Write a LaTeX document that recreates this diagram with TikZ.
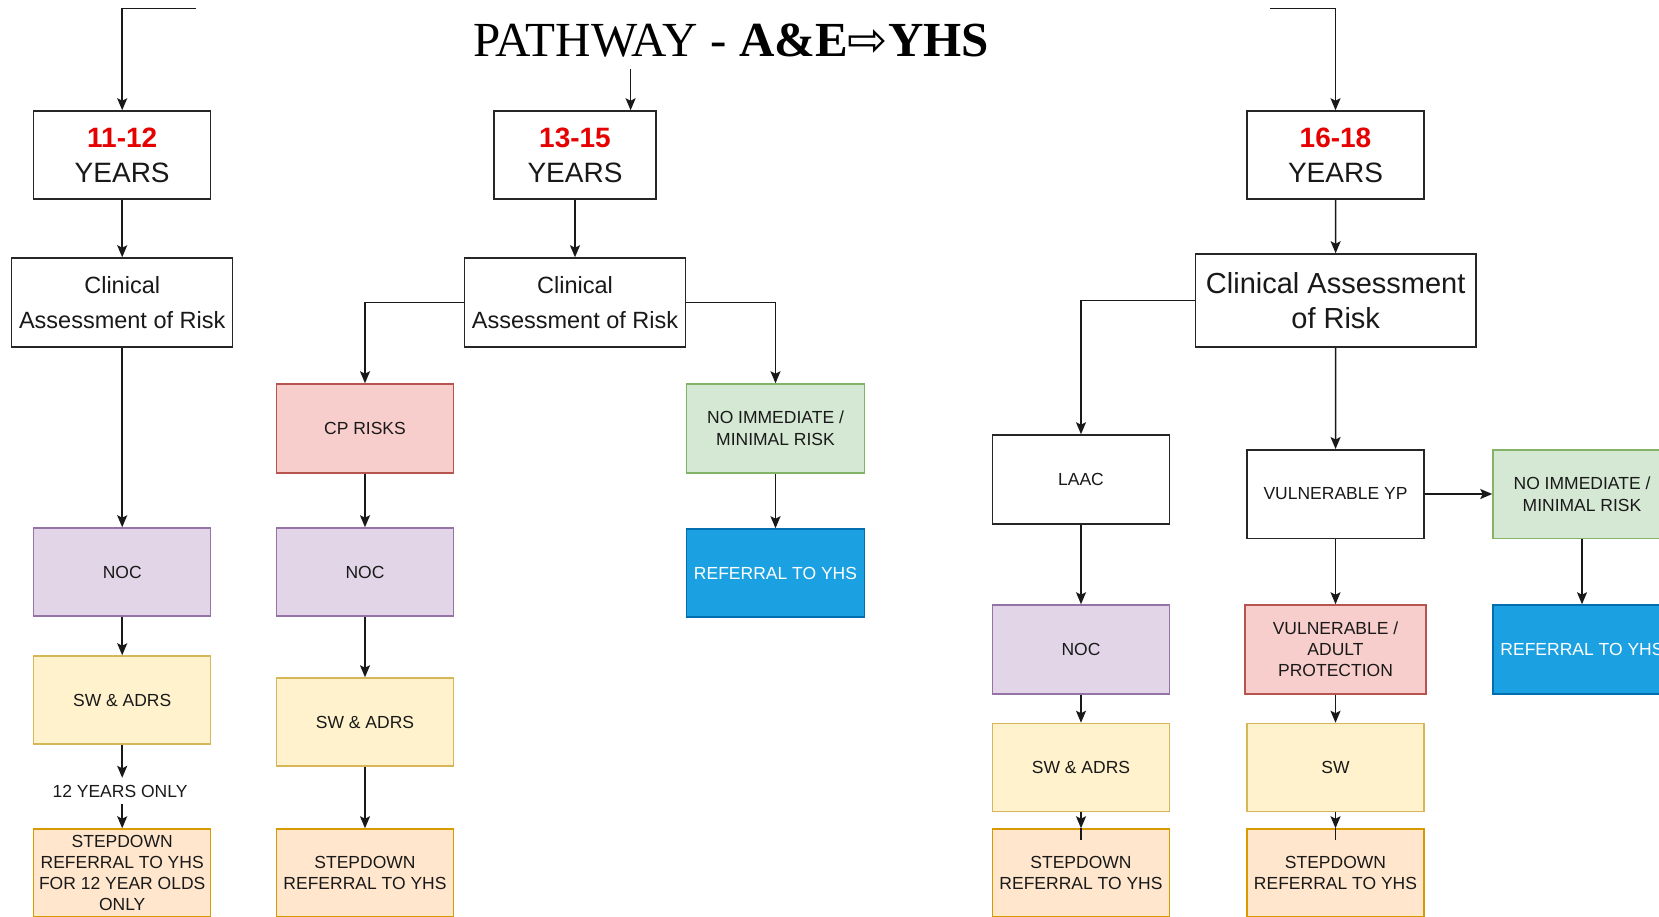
\documentclass[tikz,border=0pt]{standalone}
\usepackage{fontspec}
\setmainfont{Liberation Serif}
\newfontfamily\sansf{Liberation Sans}
\newfontfamily\symf{DejaVu Sans}
\usetikzlibrary{arrows.meta}
\definecolor{purF}{HTML}{E1D5E7}\definecolor{purD}{HTML}{9673A6}
\definecolor{yelF}{HTML}{FFF2CC}\definecolor{yelD}{HTML}{D6B656}
\definecolor{orgF}{HTML}{FFE6CC}\definecolor{orgD}{HTML}{D79B00}
\definecolor{pnkF}{HTML}{F8CECC}\definecolor{pnkD}{HTML}{B85450}
\definecolor{grnF}{HTML}{D5E8D4}\definecolor{grnD}{HTML}{82B366}
\definecolor{bluF}{HTML}{1BA1E2}\definecolor{bluD}{HTML}{006EAF}
\definecolor{ageRed}{HTML}{E60000}
\begin{document}
\begin{tikzpicture}[x=1pt,y=-1pt,
  conn/.style={line width=1.6pt, draw=black!90, -{Stealth[length=12pt,width=10pt,inset=2.5pt]}},
  plainline/.style={line width=1.6pt, draw=black!90},
  bx/.style={draw, line width=1.5pt, rectangle, inner sep=0pt, align=center,
    minimum width=177pt, minimum height=88pt,
    font=\sansf\fontsize{17.5}{21}\selectfont, text=black!90},
  wbox/.style={bx, fill=white, draw=black!85},
  agebox/.style={wbox, font=\sansf\fontsize{28}{35}\selectfont},
  purbox/.style={bx, fill=purF, draw=purD},
  yelbox/.style={bx, fill=yelF, draw=yelD},
  orgbox/.style={bx, fill=orgF, draw=orgD},
  pnkbox/.style={bx, fill=pnkF, draw=pnkD},
  grnbox/.style={bx, fill=grnF, draw=grnD},
  blubox/.style={bx, fill=bluF, draw=bluD, text=white},
  lbl/.style={inner sep=0pt, minimum height=26pt, font=\sansf\fontsize{17.5}{21}\selectfont, text=black!90}
]
\useasboundingbox (0,0) rectangle (1659,916);
\fill[white] (0,0) rectangle (1659,916);

% title
\node[inner sep=0pt, anchor=base] (title) at (731,56)
  {\fontsize{49}{54}\selectfont PATHWAY - \textbf{A\&E}{\symf\fontsize{48}{54}\selectfont ⇨}\textbf{YHS}};

% ---------- column 11-12
\node[agebox, minimum width=177pt] (a11) at (122.2,155) {\textbf{\color{ageRed}11-12}\\YEARS};
\node[wbox, minimum width=221pt, minimum height=89pt, font=\sansf\fontsize{23.5}{35}\selectfont] (ca) at (122.2,302.5) {Clinical\\Assessment of Risk};
\node[purbox] (nocA) at (122.2,572) {NOC};
\node[yelbox] (swA) at (122.2,700) {SW \& ADRS};
\node[lbl] (only12) at (120,791) {12 YEARS ONLY};
\node[orgbox] (sdA) at (122.2,873) {STEPDOWN\\REFERRAL TO YHS\\FOR 12 YEAR OLDS\\ONLY};

\coordinate (inA) at (196,8.5);
\draw[conn] (inA) -- (inA -| a11.north) -- (a11.north);
\draw[conn] (a11) -- (ca);
\draw[conn] (ca) -- (nocA);
\draw[conn] (nocA) -- (swA);
\draw[conn] (swA.south) -- (swA.south |- only12.north);
\draw[conn] (sdA.north |- only12.south) -- (sdA.north);

% ---------- column 13-15
\node[agebox, minimum width=162pt] (a13) at (575,155) {\textbf{\color{ageRed}13-15}\\YEARS};
\node[wbox, minimum width=221pt, minimum height=89pt, font=\sansf\fontsize{23.5}{35}\selectfont] (cb) at (575,302.5) {Clinical\\Assessment of Risk};
\node[pnkbox, minimum height=89pt] (cp) at (365,428.5) {CP RISKS};
\node[purbox] (nocB) at (365,572) {NOC};
\node[yelbox] (swB) at (365,722) {SW \& ADRS};
\node[orgbox] (sdB) at (365,873) {STEPDOWN\\REFERRAL TO YHS};
\node[grnbox, minimum width=178pt, minimum height=89pt, font=\sansf\fontsize{17.5}{22}\selectfont] (niB) at (775.5,428.5) {NO IMMEDIATE /\\MINIMAL RISK};
\node[blubox, minimum width=178pt] (refB) at (775.5,573) {REFERRAL TO YHS};

\coordinate (t13) at (630.6,69);
\draw[conn] (t13) -- (t13 |- a13.north);
\draw[conn] (a13) -- (cb);
\draw[conn] (cb.west) -| (cp.north);
\draw[conn] (cb.east) -| (niB.north);
\draw[conn] (cp) -- (nocB);
\draw[conn] (nocB) -- (swB);
\draw[conn] (swB) -- (sdB);
\draw[conn] (niB) -- (refB);

% ---------- column 16-18
\node[agebox, minimum width=177pt] (a16) at (1335.5,155) {\textbf{\color{ageRed}16-18}\\YEARS};
\node[wbox, minimum width=280.5pt, minimum height=93pt, font=\sansf\fontsize{29}{35}\selectfont] (cc) at (1335.7,300.5) {Clinical Assessment\\of Risk};
\node[wbox, minimum height=89pt] (laac) at (1081,479.5) {LAAC};
\node[wbox, minimum height=88.5pt] (vyp) at (1335.5,494) {VULNERABLE YP};
\node[grnbox, minimum width=178pt, minimum height=88.5pt, font=\sansf\fontsize{17.5}{22}\selectfont] (niC) at (1582,494) {NO IMMEDIATE /\\MINIMAL RISK};
\node[blubox, minimum width=178pt, minimum height=89pt] (refC) at (1582,649.5) {REFERRAL TO YHS};
\node[purbox, minimum height=89pt] (nocC) at (1081,649.5) {NOC};
\node[pnkbox, minimum width=181pt, minimum height=89pt] (vap) at (1335.5,649.5) {VULNERABLE /\\ADULT\\PROTECTION};
\node[yelbox] (swC) at (1081,767.5) {SW \& ADRS};
\node[yelbox] (swC2) at (1335.5,767.5) {SW};
\node[orgbox] (sdC) at (1081,873) {STEPDOWN\\REFERRAL TO YHS};
\node[orgbox] (sdC2) at (1335.5,873) {STEPDOWN\\REFERRAL TO YHS};

\coordinate (inC) at (1270,8.5);
\draw[conn] (inC) -- (inC -| a16.north) -- (a16.north);
\draw[conn] (a16) -- (cc);
\draw[conn] (cc.west) -| (laac.north);
\draw[conn] (cc) -- (vyp);
\draw[conn] (vyp) -- (niC);
\draw[conn] (niC) -- (refC);
\draw[conn] (laac) -- (nocC);
\draw[conn] (vyp) -- (vap);
\draw[conn] (nocC) -- (swC);
\draw[conn] (vap) -- (swC2);
\draw[conn] (swC) -- (sdC);
\draw[plainline] (sdC.north) -- ++(0,12);
\draw[conn] (swC2) -- (sdC2);
\draw[plainline] (sdC2.north) -- ++(0,12);
\end{tikzpicture}
\end{document}
